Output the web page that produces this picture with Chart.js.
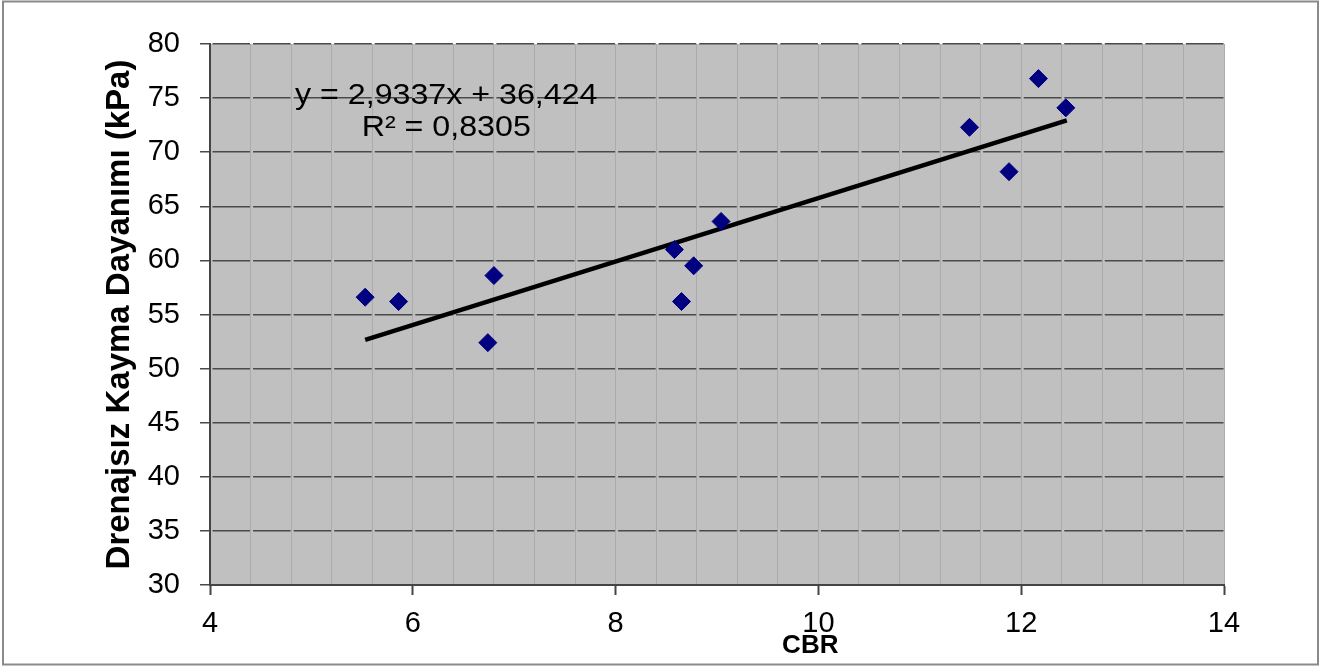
<!DOCTYPE html>
<html><head><meta charset="utf-8">
<script src="https://cdn.jsdelivr.net/npm/chart.js@4/dist/chart.umd.min.js"></script>
<style>html,body{margin:0;padding:0;background:#fff;overflow:hidden;} #wrap{width:1333px;height:671px;position:relative;}</style>
</head><body><div id="wrap"><canvas id="c" width="1333" height="671"></canvas></div>
<script>
// ---- data ----
const cbr   = [5.53, 5.86, 6.74, 6.80, 8.58, 8.65, 8.77, 9.04, 11.49, 11.88, 12.17, 12.44];
const shear = [56.6, 56.2, 52.4, 58.6, 61.0, 56.2, 59.5, 63.6, 72.3, 68.2, 76.8, 74.1];
const trendX = [5.53, 12.45];
const trendY = [52.65, 72.95];
const equationText = 'y = 2,9337x + 36,424';
const r2Text = 'R² = 0,8305';
const xTitle = 'CBR';
const yTitle = 'Drenajsız Kayma Dayanımı (kPa)';
const xRange = [4, 14];
const xMajorStep = 2;
const xMinorStep = 0.4;
const yRange = [30, 80];
const yStep = 5;

const FONT = '"Liberation Sans", Arial, sans-serif';
const isMajor = v => Math.abs(v - Math.round(v)) < 1e-6 && (Math.round(v) - xRange[0]) % xMajorStep === 0;

const frame = {
  id: 'frame',
  beforeDraw(chart) {
    const {ctx, chartArea: a} = chart;
    ctx.save();
    ctx.fillStyle = '#fff';
    ctx.fillRect(0, 0, chart.width, chart.height);
    ctx.strokeStyle = '#8a8a8a';
    ctx.lineWidth = 2;
    ctx.strokeRect(3, 1.5, 1315, 663);
    ctx.fillStyle = '#c0c0c0';
    ctx.fillRect(a.left, a.top, a.right - a.left, a.bottom - a.top);
    ctx.restore();
  },
  afterDraw(chart) {
    const {ctx} = chart;
    const xs = chart.scales.x, ys = chart.scales.y;
    ctx.save();
    ctx.fillStyle = '#000';
    ctx.font = '29px ' + FONT;
    ctx.textAlign = 'center';
    ctx.textBaseline = 'middle';
    const drawStretched = (t, px, py, sx) => {
      ctx.save(); ctx.translate(px, py); ctx.scale(sx, 1); ctx.fillText(t, 0, 0); ctx.restore();
    };
    drawStretched(equationText, xs.getPixelForValue(6.33), ys.getPixelForValue(75.2), 1.11);
    drawStretched(r2Text, xs.getPixelForValue(6.33), ys.getPixelForValue(72.2), 1.11);
    // x-axis title (placed right of centre, as in the source)
    ctx.font = 'bold 26px ' + FONT;
    ctx.fillText(xTitle, xs.getPixelForValue(9.92), 646);
    ctx.restore();
  }
};

new Chart(document.getElementById('c'), {
  type: 'scatter',
  data: {
    datasets: [
      {
        label: 'data',
        data: cbr.map((x, i) => ({x, y: shear[i]})),
        pointStyle: 'rectRot',
        pointRadius: 9,
        pointBackgroundColor: '#000080',
        pointBorderColor: '#000080',
        pointBorderWidth: 1,
        order: 1
      },
      {
        type: 'line',
        label: 'trend',
        data: trendX.map((x, i) => ({x, y: trendY[i]})),
        borderColor: '#000',
        borderWidth: 4.5,
        pointRadius: 0,
        fill: false,
        order: 2
      }
    ]
  },
  options: {
    responsive: false,
    animation: false,
    devicePixelRatio: 1,
    layout: {padding: {left: 0, top: 44, right: 109, bottom: 0}},
    plugins: {legend: {display: false}, tooltip: {enabled: false}},
    scales: {
      x: {
        type: 'linear', min: xRange[0], max: xRange[1],
        afterFit: s => { s.height = 86; },
        ticks: {
          stepSize: xMinorStep, autoSkip: false, maxRotation: 0,
          callback: v => isMajor(v) ? String(Math.round(v)) : '',
          font: {family: FONT, size: 29}, color: '#000', padding: 12
        },
        grid: {
          color: '#ababab', lineWidth: 1, drawTicks: true, tickLength: 10,
          tickColor: c => (c.tick && isMajor(c.tick.value)) ? '#444' : 'rgba(0,0,0,0)',
          tickWidth: 2
        },
        border: {display: true, color: '#444', width: 2},
        title: {display: false}
      },
      y: {
        type: 'linear', min: yRange[0], max: yRange[1],
        afterFit: s => { s.width = 210; },
        ticks: {stepSize: yStep, font: {family: FONT, size: 29}, color: '#000', padding: 20},
        grid: {color: '#4a4a4a', lineWidth: 1.5, drawTicks: true, tickLength: 10, tickColor: '#4a4a4a', tickWidth: 1.5},
        border: {display: true, color: '#444', width: 2, dash: [37.56, 3], dashOffset: 39.06},
        title: {display: true, text: yTitle, font: {family: FONT, size: 33, weight: 'bold'}, color: '#000', padding: {top: 100, bottom: 0}}
      }
    }
  },
  plugins: [frame]
});
</script>
</body></html>
